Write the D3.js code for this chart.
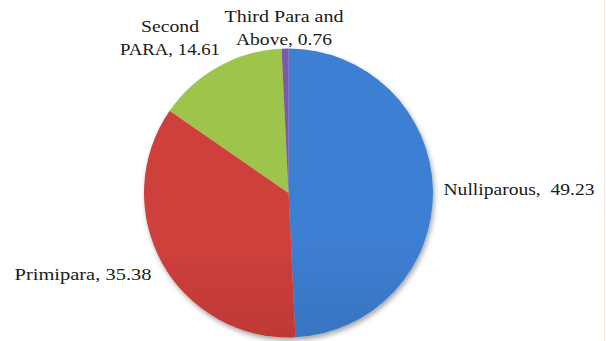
<!DOCTYPE html>
<html><head><meta charset="utf-8">
<script src="https://cdn.jsdelivr.net/npm/d3@7"></script>
<style>html,body{margin:0;padding:0;background:#fff;}svg{display:block;}</style>
</head><body>
<script>
const categories = ["Nulliparous", "Primipara", "Second PARA", "Third Para and Above"];
const values = [49.23, 35.38, 14.61, 0.76];
const labelLines = [["Nulliparous,  49.23"], ["Primipara, 35.38"], ["Second", "PARA, 14.61"], ["Third Para and", "Above, 0.76"]];
const colorsTop = ["#3d7fd2", "#cf403c", "#9dc44b", "#7e58ab"];
const colorsBottom = ["#2d5e9f", "#9e2b29", "#76942d", "#6a4793"];

const W = 606, H = 341, cx = 288.5, cy = 193, r = 144.5;
const svg = d3.select("body").append("svg").attr("width", W).attr("height", H);
const defs = svg.append("defs");
const f = defs.append("filter").attr("id", "sh").attr("x", "-20%").attr("y", "-20%").attr("width", "140%").attr("height", "140%");
f.append("feDropShadow").attr("dx", 1.5).attr("dy", 3).attr("stdDeviation", 2.5).attr("flood-color", "#000").attr("flood-opacity", 0.35);

categories.forEach((c, i) => {
  const g = defs.append("linearGradient").attr("id", "g" + i).attr("gradientUnits", "userSpaceOnUse")
    .attr("x1", 0).attr("y1", cy - r).attr("x2", 0).attr("y2", cy + r);
  g.append("stop").attr("offset", 0).attr("stop-color", colorsTop[i]);
  g.append("stop").attr("offset", 1).attr("stop-color", colorsBottom[i]);
});

svg.append("line").attr("x1", 604.5).attr("x2", 604.5).attr("y1", 0).attr("y2", H).attr("stroke", "#fbe4da").attr("stroke-width", 1);

const pie = d3.pie().sort(null).value(d => d)(values);
const arc = d3.arc().innerRadius(0).outerRadius(r);
const gp = svg.append("g").attr("transform", `translate(${cx},${cy})`).attr("filter", "url(#sh)");
gp.selectAll("path").data(pie).join("path")
  .attr("d", arc).attr("fill", (d, i) => `url(#g${i})`);

// label placement: anchor positions (centre of text block) and baselines
const labelPos = [
  {x: 519, y: [195], w: [151]},
  {x: 83, y: [280], w: [137]},
  {x: 170, y: [32, 55], w: [58, 100]},
  {x: 284, y: [22, 45], w: [119, 96]}
];
const tg = svg.append("g").attr("font-family", "'Liberation Serif', 'Times New Roman', serif")
  .attr("font-size", 17.5).attr("fill", "#1a1a1a");
labelLines.forEach((lines, i) => {
  lines.forEach((t, j) => {
    tg.append("text").attr("x", labelPos[i].x).attr("y", labelPos[i].y[j])
      .attr("text-anchor", "middle").attr("textLength", labelPos[i].w[j]).attr("lengthAdjust", "spacingAndGlyphs")
      .attr("xml:space", "preserve").style("white-space", "pre").text(t);
  });
});
</script>
</body></html>
